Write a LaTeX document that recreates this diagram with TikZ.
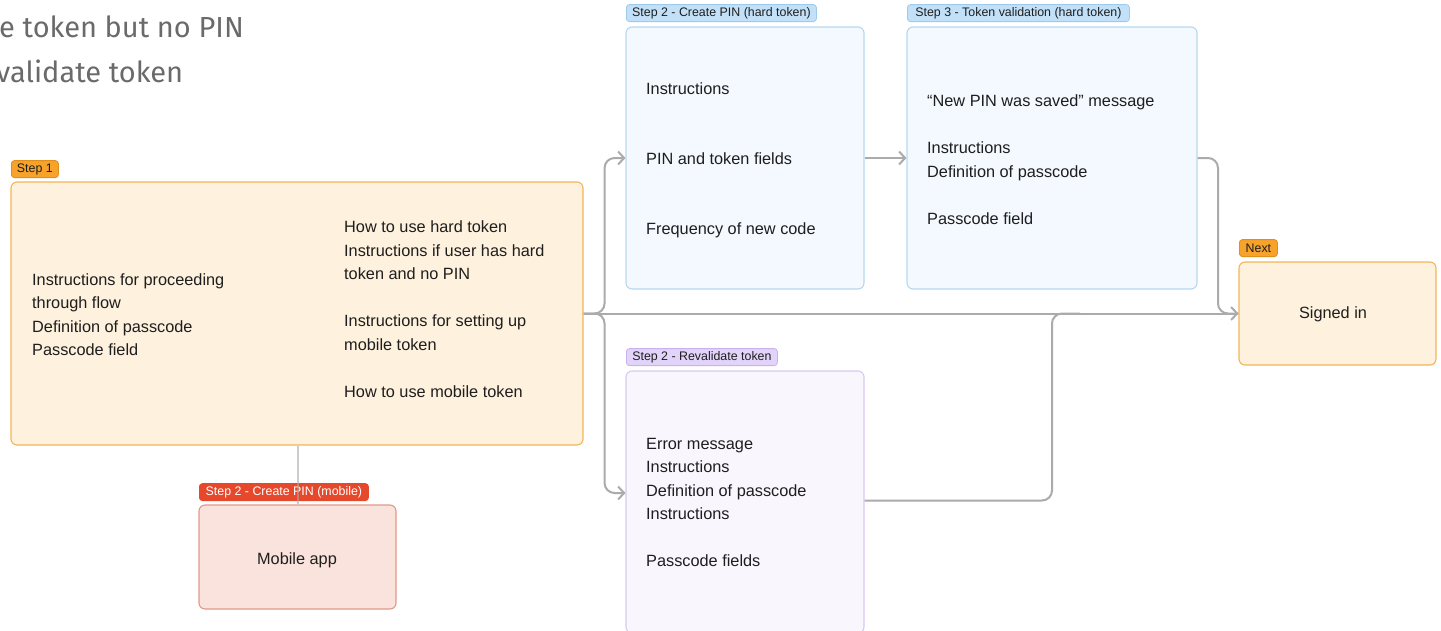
\documentclass[tikz,border=0pt]{standalone}
\usepackage{fontspec}
\setmainfont{Liberation Sans}
\newfontfamily\topfont{Fira Sans}
\usetikzlibrary{arrows.meta,calc}
\definecolor{tagorange}{HTML}{F6A22B}
\definecolor{tagorangeb}{HTML}{E08E1C}
\definecolor{cream}{HTML}{FEF1DD}
\definecolor{creamb}{HTML}{F2B45A}
\definecolor{tagblue}{HTML}{C2E1F8}
\definecolor{tagblueb}{HTML}{9ECBEB}
\definecolor{boxblue}{HTML}{F3F9FE}
\definecolor{boxblueb}{HTML}{B6D8EF}
\definecolor{tagpurple}{HTML}{E2D3FA}
\definecolor{tagpurpleb}{HTML}{C8B2EF}
\definecolor{boxpurple}{HTML}{F9F6FE}
\definecolor{boxpurpleb}{HTML}{D8C9EF}
\definecolor{tagred}{HTML}{E6482B}
\definecolor{boxred}{HTML}{FBE3DD}
\definecolor{boxredb}{HTML}{DF9888}
\definecolor{conngray}{HTML}{ABABAB}
\definecolor{txt}{HTML}{1E1E1E}
\definecolor{toptxt}{HTML}{6A6A6A}
\begin{document}
\begin{tikzpicture}[x=1pt,y=-1pt,
  box/.style={draw, rounded corners=6pt, line width=1.1pt, inner sep=0pt},
  tagbox/.style={rounded corners=3pt, line width=0.8pt, anchor=south west, inner xsep=5pt, inner ysep=0pt, minimum height=17pt, font=\fontsize{12.4}{14}\selectfont, text=txt},
  body/.style={anchor=west, align=left, inner sep=0pt, text=txt, font=\fontsize{16.3}{23.5}\selectfont},
  ctext/.style={inner sep=0pt, text=txt, font=\fontsize{16.3}{23.5}\selectfont},
  conn/.style={draw=conngray, line width=2pt, rounded corners=10pt},
  tip/.style={-{Straight Barb[length=6pt,width=13pt,line width=2pt]}}
]
\useasboundingbox (0,0) rectangle (1441,630);

% top clipped text
\node[anchor=base west, inner sep=0pt, text=toptxt, font=\topfont\fontsize{29}{34}\selectfont] (top1) at (-1,37) {e token but no PIN};
\node[anchor=base west, inner sep=0pt, text=toptxt, font=\topfont\fontsize{29}{34}\selectfont] (top2) at (-4,82) {validate token};

% boxes
\node[box, draw=creamb, fill=cream, minimum width=572pt, minimum height=263pt] (s1) at (297,313.5) {};
\node[box, draw=boxredb, fill=boxred, minimum width=197pt, minimum height=104pt] (mob) at (297.5,557) {};
\node[box, draw=boxblueb, fill=boxblue, minimum width=238pt, minimum height=262pt] (cph) at (745,158) {};
\node[box, draw=boxblueb, fill=boxblue, minimum width=290pt, minimum height=262pt] (s3) at (1052,158) {};
\node[box, draw=boxpurpleb, fill=boxpurple, minimum width=238pt, minimum height=262pt] (rev) at (745,502) {};
\node[box, draw=creamb, fill=cream, minimum width=197pt, minimum height=103pt] (sig) at (1337.5,313.5) {};

% connectors
\draw[conn, tip] (s1.east) -- (sig.west);
\draw[conn, tip] (s1.east) -- ++(21,0) |- (cph.west);
\draw[conn, tip] (s1.east) -- ++(21,0) |- ($(rev.west)+(0,-9)$);
\draw[conn, tip] (cph.east) -- (s3.west);
\draw[conn] (s3.east) -| (1218,313.5) -- (sig.west);
\draw[conn] ($(rev.east)+(0,-1.5)$) -| (1052,313.5) -- (1080,313.5);

% tags
\node[tagbox, fill=tagorange, draw=tagorangeb, minimum width=47pt] (t1) at (11,178) {Step 1};
\node[tagbox, fill=tagblue, draw=tagblueb, minimum width=190pt] (tcph) at (626,22) {Step 2 - Create PIN (hard token)};
\node[tagbox, fill=tagblue, draw=tagblueb, minimum width=222pt] (t3) at (907,22) {Step 3 - Token validation (hard token)};
\node[tagbox, fill=tagorange, draw=tagorangeb, minimum width=38pt] (tn) at (1239,257) {Next};
\node[tagbox, fill=tagpurple, draw=tagpurpleb, minimum width=151pt] (trev) at (626,366) {Step 2 - Revalidate token};
\node[tagbox, fill=tagred, draw=tagred, minimum width=169pt, text=white] (tmob) at (199,501) {Step 2 - Create PIN (mobile)};

\draw[conn, draw opacity=0.6] (s1.south -| mob.north) -- (mob.north);

% texts
\node[body] (s1l) at (32,314.5) {Instructions for proceeding\\through flow\\Definition of passcode\\Passcode field};
\node[body] (s1r) at (344,309) {How to use hard token\\Instructions if user has hard\\token and no PIN\\[23.5pt]Instructions for setting up\\mobile token\\[23.5pt]How to use mobile token};
\node[body] (cpht) at (646,160) {Instructions\\[46.5pt]PIN and token fields\\[46.5pt]Frequency of new code};
\node[body] (s3t) at (927,159.5) {“New PIN was saved” message\\[23.5pt]Instructions\\Definition of passcode\\[23.5pt]Passcode field};
\node[body] (revt) at (646,502.5) {Error message\\Instructions\\Definition of passcode\\Instructions\\[23.5pt]Passcode fields};
\node[ctext] (sigt) at (1333,314) {Signed in};
\node[ctext] (mobt) at (297,560) {Mobile app};
\end{tikzpicture}
\end{document}
